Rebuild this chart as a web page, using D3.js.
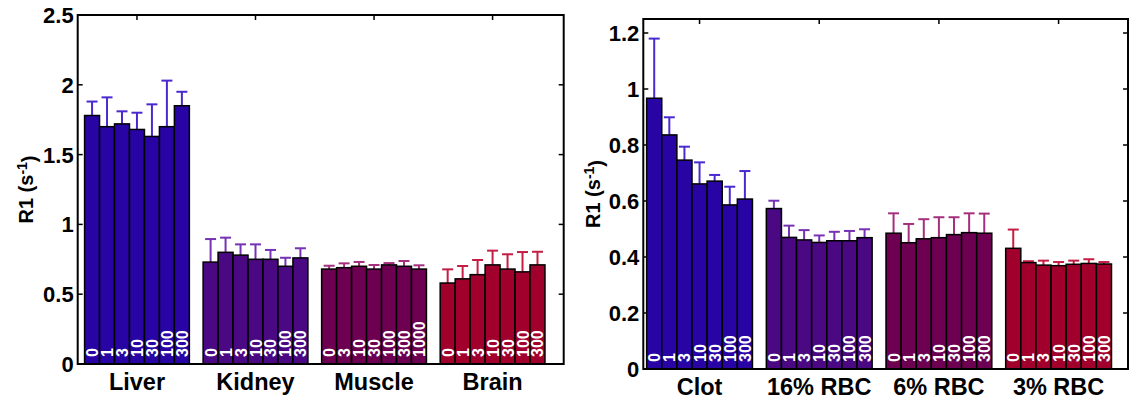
<!DOCTYPE html>
<html>
<head>
<meta charset="utf-8">
<script src="https://cdn.jsdelivr.net/npm/d3@7"></script>
<style>
  html, body { margin: 0; padding: 0; background: #fff; }
  svg { display: block; font-family: "Liberation Sans", Arial, sans-serif; }
</style>
</head>
<body>
<svg id="chart" width="1138" height="400"></svg>
<script>
// ---------- DATA ----------
const leftCategories = ["Liver", "Kidney", "Muscle", "Brain"];
const leftDoses = [
  ["0", "1", "3", "10", "30", "100", "300"],
  ["0", "1", "3", "10", "30", "100", "300"],
  ["0", "3", "10", "30", "100", "300", "1000"],
  ["0", "1", "3", "10", "30", "100", "300"]
];
const leftValues = [
  [1.78, 1.70, 1.72, 1.68, 1.63, 1.70, 1.85],
  [0.73, 0.80, 0.78, 0.75, 0.75, 0.70, 0.76],
  [0.68, 0.69, 0.70, 0.68, 0.71, 0.70, 0.68],
  [0.58, 0.61, 0.64, 0.71, 0.68, 0.66, 0.71]
];
const leftErrTops = [
  [1.88, 1.91, 1.81, 1.80, 1.86, 2.03, 1.95],
  [0.895, 0.905, 0.857, 0.857, 0.817, 0.761, 0.829],
  [0.704, 0.721, 0.731, 0.709, 0.723, 0.738, 0.707],
  [0.678, 0.702, 0.745, 0.812, 0.786, 0.802, 0.804]
];
const leftYTicks = [0, 0.5, 1, 1.5, 2, 2.5];
const leftYTickLabels = ["0", "0.5", "1", "1.5", "2", "2.5"];

const rightCategories = ["Clot", "16% RBC", "6% RBC", "3% RBC"];
const rightDoses = [
  ["0", "1", "3", "10", "30", "100", "300"],
  ["0", "1", "3", "10", "30", "100", "300"],
  ["0", "1", "3", "10", "30", "100", "300"],
  ["0", "1", "3", "10", "30", "100", "300"]
];
const rightValues = [
  [0.967, 0.836, 0.746, 0.661, 0.671, 0.586, 0.607],
  [0.573, 0.470, 0.461, 0.452, 0.458, 0.458, 0.469],
  [0.485, 0.451, 0.465, 0.469, 0.480, 0.487, 0.485],
  [0.431, 0.380, 0.371, 0.369, 0.374, 0.377, 0.375]
];
const rightErrTops = [
  [1.18, 0.899, 0.794, 0.738, 0.693, 0.651, 0.707],
  [0.601, 0.512, 0.496, 0.477, 0.490, 0.493, 0.499],
  [0.556, 0.518, 0.535, 0.542, 0.542, 0.556, 0.555],
  [0.498, 0.385, 0.387, 0.382, 0.387, 0.392, 0.382]
];
const rightYTicks = [0, 0.2, 0.4, 0.6, 0.8, 1, 1.2];
const rightYTickLabels = ["0", "0.2", "0.4", "0.6", "0.8", "1", "1.2"];

// group colours (bar fill / error bar)
const barColors = ["#2804a4", "#4a0882", "#6e0052", "#a2002c"];
const errColors = ["#4a2ad0", "#7632b4", "#a4307c", "#c41e44"];

// ---------- DRAW ----------
const svg = d3.select("#chart");
svg.append("rect").attr("width", 1138).attr("height", 400).attr("fill", "#fff");

function drawPanel(opt) {
  const { left, right, top, bottom, xDomain, yMax, cats, doses, values, errs, yTicks, yTickLabels, ylabelX, catBaseline } = opt;
  const x = d3.scaleLinear().domain(xDomain).range([left, right]);
  const y = d3.scaleLinear().domain([0, yMax]).range([bottom, top]);
  const g = svg.append("g");
  const groupWidth = 0.884;
  const n = 7;
  const bw = groupWidth / n;
  const tickLen = 5;

  // inward ticks (drawn beneath bars)
  const tk = g.append("g").attr("stroke", "#000").attr("stroke-width", 1.5);
  yTicks.forEach(t => {
    if (t === 0 || t === yMax) return;
    tk.append("line").attr("x1", x(xDomain[0])).attr("x2", x(xDomain[0]) + tickLen).attr("y1", y(t)).attr("y2", y(t));
    tk.append("line").attr("x1", x(xDomain[1])).attr("x2", x(xDomain[1]) - tickLen).attr("y1", y(t)).attr("y2", y(t));
  });
  d3.range(1, cats.length + 1).forEach(c => {
    tk.append("line").attr("x1", x(c)).attr("x2", x(c)).attr("y1", y(yMax)).attr("y2", y(yMax) + tickLen);
    tk.append("line").attr("x1", x(c)).attr("x2", x(c)).attr("y1", y(0)).attr("y2", y(0) - tickLen);
  });

  cats.forEach((cat, gi) => {
    const center = gi + 1;
    const items = values[gi].map((v, i) => ({
      v, e: errs[gi][i], lab: doses[gi][i],
      cx: center + (i - (n - 1) / 2) * bw
    }));
    const gg = g.append("g");
    // error bars (upper only)
    gg.selectAll("line.err").data(items).enter().append("line")
      .attr("x1", d => x(d.cx)).attr("x2", d => x(d.cx))
      .attr("y1", d => y(d.v)).attr("y2", d => y(d.e))
      .attr("stroke", errColors[gi]).attr("stroke-width", 2);
    gg.selectAll("line.cap").data(items).enter().append("line")
      .attr("x1", d => x(d.cx) - 5.5).attr("x2", d => x(d.cx) + 5.5)
      .attr("y1", d => y(d.e)).attr("y2", d => y(d.e))
      .attr("stroke", errColors[gi]).attr("stroke-width", 2);
    // bars
    gg.selectAll("rect").data(items).enter().append("rect")
      .attr("x", d => x(d.cx - bw / 2))
      .attr("width", d => x(d.cx + bw / 2) - x(d.cx - bw / 2))
      .attr("y", d => y(d.v))
      .attr("height", d => y(0) - y(d.v))
      .attr("fill", barColors[gi])
      .attr("stroke", "#000").attr("stroke-width", 1.5);
    // dose labels
    gg.selectAll("text").data(items).enter().append("text")
      .attr("transform", d => `translate(${x(d.cx) + 6},${y(0) - 7}) rotate(-90)`)
      .attr("text-anchor", "start")
      .attr("fill", "#fff")
      .attr("font-size", 16).attr("font-weight", "bold")
      .text(d => d.lab);
    // category label
    g.append("text")
      .attr("x", x(center)).attr("y", catBaseline)
      .attr("text-anchor", "middle")
      .attr("font-size", 23.5).attr("font-weight", "bold")
      .text(cat);
  });

  // frame
  g.append("rect")
    .attr("x", left).attr("y", top)
    .attr("width", right - left).attr("height", bottom - top)
    .attr("fill", "none").attr("stroke", "#000").attr("stroke-width", 2);

  // y tick labels
  yTicks.forEach((t, i) => {
    g.append("text")
      .attr("x", left - 4).attr("y", y(t))
      .attr("dy", "0.36em")
      .attr("text-anchor", "end")
      .attr("font-size", 22).attr("font-weight", "bold")
      .text(yTickLabels[i]);
  });

  // y axis label
  const yl = g.append("text")
    .attr("transform", `translate(${ylabelX},${(top + bottom) / 2}) rotate(-90)`)
    .attr("text-anchor", "middle")
    .attr("font-size", 20).attr("font-weight", "bold");
  yl.append("tspan").text("R1 (s");
  yl.append("tspan").attr("dy", "-0.45em").attr("font-size", 14).text("-1");
  yl.append("tspan").attr("dy", "0.45em").text(")");
}

drawPanel({
  left: 77.7, right: 563.7, top: 15, bottom: 364,
  xDomain: [0.5, 4.6], yMax: 2.5,
  cats: leftCategories, doses: leftDoses, values: leftValues, errs: leftErrTops,
  yTicks: leftYTicks, yTickLabels: leftYTickLabels,
  ylabelX: 33, catBaseline: 390
});

drawPanel({
  left: 643.3, right: 1128, top: 19, bottom: 369,
  xDomain: [0.53, 4.58], yMax: 1.25,
  cats: rightCategories, doses: rightDoses, values: rightValues, errs: rightErrTops,
  yTicks: rightYTicks, yTickLabels: rightYTickLabels,
  ylabelX: 600, catBaseline: 395
});
</script>
</body>
</html>
